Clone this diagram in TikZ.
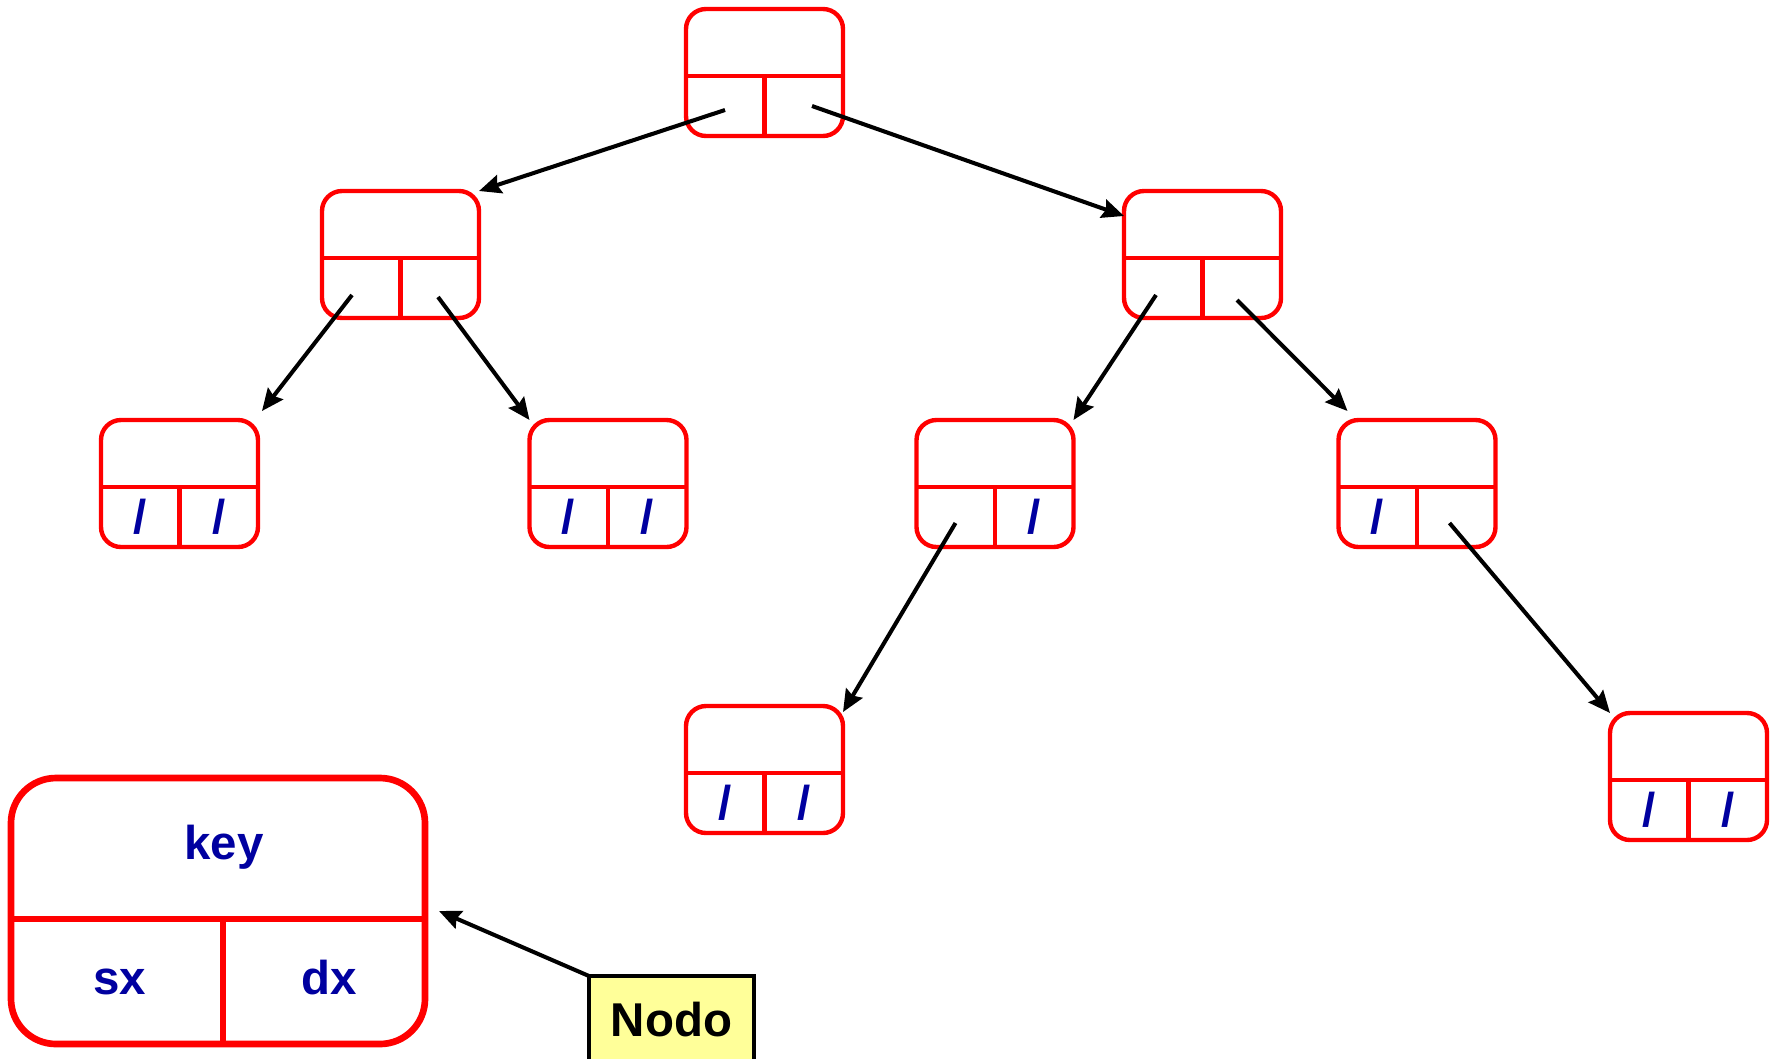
\documentclass[tikz,border=0pt]{standalone}
\usepackage{fontspec}
\setmainfont{Liberation Sans}
\usepackage{xcolor}
\usetikzlibrary{arrows.meta,positioning}
\definecolor{keyblue}{RGB}{0,0,160}
\definecolor{nodoyellow}{RGB}{255,255,153}

\begin{document}
\begin{tikzpicture}[
  font=\fontsize{13.5}{16}\selectfont\bfseries,
  bst/.style={draw=red, line width=1.25pt, rounded corners=2mm, outer sep=0pt, minimum width=15.7mm, minimum height=12.7mm},
  bigbst/.style={draw=red, line width=1.9pt, rounded corners=4.5mm, outer sep=0pt, minimum width=41.4mm, minimum height=26.6mm},
  sep/.style={red, line width=1.25pt},
  lbl/.style={text=keyblue, anchor=base, inner sep=0pt},
  nil/.style={text=keyblue, inner sep=0pt},
  ar/.style={-{Stealth[length=2.2mm, width=1.9mm, inset=0.3mm]}, line width=1.15pt}
]
\useasboundingbox (0,0) rectangle (17.79,10.58);

% tree nodes
\node[bst] (root) at (7.645,9.855) {};
\node[bst] (l1l) at (4.005,8.035) {};
\node[bst] (l1r) at (12.025,8.035) {};
\node[bst] (l2a) at (1.795,5.745) {};
\node[bst] (l2b) at (6.08,5.745) {};
\node[bst] (l2c) at (9.95,5.745) {};
\node[bst] (l2d) at (14.17,5.745) {};
\node[bst] (l3a) at (7.645,2.885) {};
\node[bst] (l3b) at (16.885,2.815) {};

\foreach \n in {root,l1l,l1r,l2a,l2b,l2c,l2d,l3a,l3b} {
  \draw[sep] ([yshift=6mm]\n.south west) -- ([yshift=6mm]\n.south east);
  \draw[sep] (\n.south) -- ([yshift=6mm]\n.south);
  \coordinate (\n-sx) at ([xshift=3.9mm,yshift=3mm]\n.south west);
  \coordinate (\n-dx) at ([xshift=-3.9mm,yshift=3mm]\n.south east);
}

% null pointers
\foreach \p in {l2a-sx,l2a-dx,l2b-sx,l2b-dx,l2c-dx,l2d-sx,l3a-sx,l3a-dx,l3b-sx,l3b-dx}
  \node[nil] at (\p) {/};

% links
\draw[ar] ([yshift=-0.4mm]root-sx) -- (l1l.north east);
\draw[ar] ([xshift=0.8mm]root-dx) -- ([yshift=-2.5mm]l1r.north west);
\draw[ar] ([xshift=-0.9mm,yshift=-0.7mm]l1l-sx) -- ([xshift=0.4mm,yshift=0.9mm]l2a.north east);
\draw[ar] ([xshift=-0.2mm,yshift=-0.9mm]l1l-dx) -- (l2b.north west);
\draw[ar] ([xshift=-0.7mm,yshift=-0.7mm]l1r-sx) -- (l2c.north east);
\draw[ar] ([xshift=-0.5mm,yshift=-1.2mm]l1r-dx) -- ([xshift=0.9mm,yshift=0.9mm]l2d.north west);
\draw[ar] ([yshift=-0.6mm]l2c-sx) -- ([yshift=-0.6mm]l3a.north east);
\draw[ar] ([xshift=-0.7mm,yshift=-0.6mm]l2d-dx) -- (l3b.north west);

% legend node
\node[bigbst] (legend) at (2.18,1.47) {};
\draw[sep, line width=1.9pt] ([yshift=12.5mm]legend.south west) -- ([yshift=12.5mm]legend.south east);
\draw[sep, line width=1.9pt] ([xshift=0.5mm]legend.south) -- ([xshift=0.5mm,yshift=12.5mm]legend.south);
\node[lbl] (key) at ([xshift=0.6mm,yshift=5.2mm]legend.center) {key};
\node[lbl] (sx) at ([xshift=-9.8mm,yshift=-8.3mm]legend.center) {sx};
\node[lbl] (dx) at ([xshift=11.1mm,yshift=-8.3mm]legend.center) {dx};

\node[draw, line width=1.15pt, fill=nodoyellow, minimum width=16.5mm, minimum height=8.8mm, outer sep=0pt] (nodo) at (6.715,0.38) {Nodo};
\draw[ar] (nodo.north west) -- ([xshift=1.4mm]legend.east);
\end{tikzpicture}
\end{document}
